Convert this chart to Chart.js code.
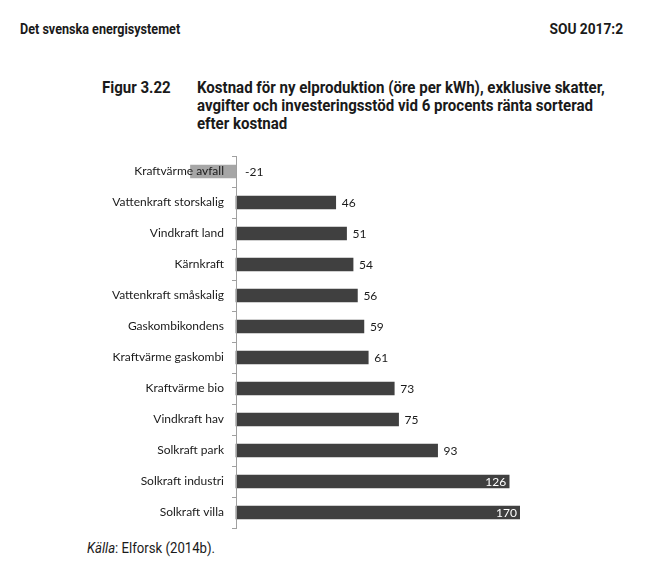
<!DOCTYPE html>
<html>
<head>
<meta charset="utf-8">
<script src="https://cdn.jsdelivr.net/npm/chart.js@4.4.1/dist/chart.umd.min.js"></script>
<style>
	body { margin: 0; background: #fff; }
	#page { position: relative; width: 655px; height: 582px; overflow: hidden; }
	.txt { position: absolute; white-space: nowrap; font-family: Roboto, sans-serif; color: #1a1a1a; transform-origin: left top; }
	.hdr { font-weight: bold; font-size: 14px; transform: scaleX(0.9); }
	.ttl { font-weight: bold; font-size: 16px; line-height: 18px; transform: scaleX(0.94); }
	#chart { position: absolute; left: 0; top: 0; }
</style>
</head>
<body>
<div id="page">
	<div class="txt hdr" style="left:20px; top:21px;">Det svenska energisystemet</div>
	<div class="txt hdr" style="right:32px; top:21px; transform-origin:right top; transform:scaleX(0.98);">SOU 2017:2</div>
	<div class="txt ttl" style="left:102px; top:79px;">Figur 3.22</div>
	<div class="txt ttl" style="left:197px; top:79px;">Kostnad för ny elproduktion (öre per kWh), exklusive skatter,<br>avgifter och investeringsstöd vid 6 procents ränta sorterad<br>efter kostnad</div>
	<div class="txt" style="left:87px; top:540px; font-size:14px; transform:scaleX(0.94);"><i>Källa</i>: Elforsk (2014b).</div>
	<canvas id="chart" width="655" height="582"></canvas>
</div>
<script>
//======================================================================================================
// Data
//======================================================================================================
var categories = [
	"Kraftvärme avfall", "Vattenkraft storskalig", "Vindkraft land", "Kärnkraft",
	"Vattenkraft småskalig", "Gaskombikondens", "Kraftvärme gaskombi", "Kraftvärme bio",
	"Vindkraft hav", "Solkraft park", "Solkraft industri", "Solkraft villa"
];
var costs = [-21, 46, 51, 54, 56, 59, 61, 73, 75, 93, 126, 170];
// values whose label sits inside the bar end
var insideLabels = ["Solkraft industri", "Solkraft villa"];

var barColors = costs.map(function(v) { return v < 0 ? "#a6a6a6" : "#404040"; });

// Simple value labels drawn after the bars
var valueLabels = {
	id: 'valueLabels',
	afterDraw: function(chart) {
		var ctx = chart.ctx;
		var meta = chart.getDatasetMeta(0);
		var area = chart.chartArea;
		var x0 = chart.scales.x.getPixelForValue(0);
		ctx.save();
		ctx.font = "12px Lato";
		ctx.textBaseline = "middle";
		meta.data.forEach(function(bar, i) {
			var v = costs[i];
			var end = Math.min(bar.x, area.right);
			if (insideLabels.indexOf(categories[i]) >= 0)
			{
				ctx.fillStyle = "#ffffff";
				ctx.textAlign = "right";
				ctx.fillText(String(v), end - 3, bar.y + 1);
			}
			else
			{
				ctx.fillStyle = "#1a1a1a";
				ctx.textAlign = "left";
				ctx.fillText(String(v), (v < 0 ? x0 + 3 : end) + 6, bar.y + 1);
			}
		});
		ctx.restore();
	}
};

new Chart(document.getElementById("chart"), {
	type: "bar",
	data: {
		labels: categories,
		datasets: [{
			data: costs,
			backgroundColor: barColors,
			borderWidth: 0,
			barThickness: 13,
			// negative bar spills left of the axis, the long one is cut at the right edge
			clip: { left: 60, right: 0, top: 5, bottom: 5 }
		}]
	},
	options: {
		indexAxis: 'y',
		responsive: false,
		animation: false,
		layout: { padding: { top: 156, bottom: 54, left: 0, right: 135 } },
		plugins: { legend: { display: false }, tooltip: { enabled: false } },
		scales: {
			x: { display: false, min: 0, max: 131 },
			y: {
				afterFit: function(scale) { scale.width = 236; },
				offset: true,
				border: { display: true, color: "#a0a0a0", width: 1, z: 1 },
				grid: { offset: true, drawOnChartArea: false, tickLength: 4, color: "#a0a0a0" },
				ticks: { color: "#1a1a1a", font: { family: "Lato", size: 12 }, padding: 8, z: 1 }
			}
		}
	},
	plugins: [valueLabels]
});
</script>
</body>
</html>
